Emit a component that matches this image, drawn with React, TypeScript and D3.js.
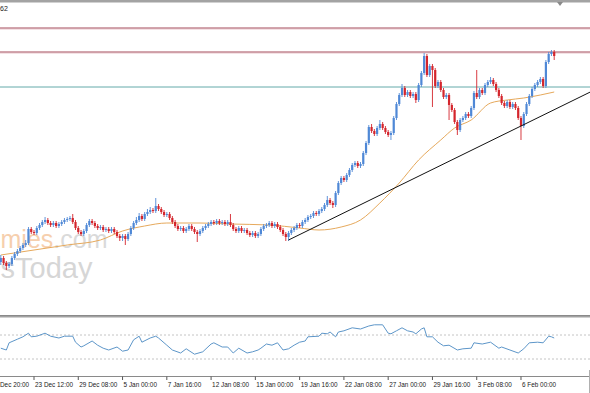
import * as d3 from "d3";
import React from "react";

// 4H candles, [open, high, low, close] in chart price units
const ohlc: number[][] = [
  [51,58,48,55],[55,57,48,50],[50,52,43,47],[47,51,45,49],[49,57,47,55],[55,61,53,59],[59,64,57,62],[62,67,60,65],[65,70,63,68],[68,73,66,70],
  [70,86,68,84],[84,86,79,81],[81,83,78,80],[80,87,78,85],[85,90,83,88],[88,93,86,91],[91,96,89,93],[93,95,88,90],[90,92,86,88],[88,92,86,90],
  [90,92,85,87],[87,91,85,89],[89,93,87,91],[91,95,89,93],[93,96,91,94],[94,97,92,95],[95,99,89,91],[91,93,83,85],[85,87,79,81],[81,83,77,79],
  [79,84,77,82],[82,90,80,88],[88,94,86,92],[92,94,88,90],[90,92,85,87],[87,89,83,85],[85,88,83,86],[86,88,81,83],[83,86,81,84],[84,86,80,82],
  [82,86,80,84],[84,86,79,81],[81,83,75,77],[77,79,72,75],[75,79,72,77],[77,79,68,74],[74,81,72,79],[79,87,77,85],[85,92,83,90],[90,96,88,93],
  [93,100,91,97],[97,99,92,94],[94,101,92,99],[99,104,97,101],[101,106,99,103],[103,105,100,102],[102,115,100,107],[107,109,102,104],[104,106,99,101],[101,103,96,98],
  [98,101,96,99],[99,101,93,95],[95,97,89,91],[91,93,85,87],[87,89,82,84],[84,87,82,85],[85,87,80,82],[82,86,80,84],[84,89,82,87],[87,89,82,84],
  [84,86,79,81],[81,83,71,79],[79,84,77,82],[82,87,80,85],[85,89,83,87],[87,91,85,89],[89,93,87,91],[91,93,88,90],[90,94,88,92],[92,94,88,90],
  [90,93,88,91],[91,93,87,89],[89,93,87,91],[91,99,86,88],[88,90,82,84],[84,86,80,82],[82,87,80,85],[85,87,80,82],[82,85,80,83],[83,85,78,80],
  [80,82,76,78],[78,82,76,80],[80,82,75,77],[77,81,75,79],[79,86,77,84],[84,89,82,87],[87,90,85,88],[88,92,86,90],[90,92,85,87],[87,91,85,89],
  [89,91,84,86],[86,88,81,83],[83,85,77,79],[79,81,72,76],[76,82,72,80],[80,85,78,83],[83,87,81,85],[85,90,83,88],[88,90,85,87],[87,93,85,91],
  [91,95,89,93],[93,98,91,96],[96,99,94,97],[97,102,95,100],[100,102,97,99],[99,104,97,102],[102,106,100,104],[104,110,102,108],[108,117,106,113],[113,115,108,110],
  [110,112,105,108],[108,122,106,120],[120,132,118,130],[130,137,128,135],[135,137,131,133],[133,140,131,138],[138,145,136,143],[143,150,141,148],[148,152,146,150],[150,152,145,147],
  [147,151,145,149],[149,162,147,160],[160,172,158,170],[170,188,168,186],[186,189,180,182],[182,184,177,179],[179,187,177,185],[185,193,183,189],[189,191,183,185],[185,187,179,181],
  [181,183,176,178],[178,182,173,180],[180,197,178,195],[195,211,193,209],[209,220,207,218],[218,229,216,225],[225,227,216,218],[218,223,216,221],[221,223,215,217],[217,221,215,219],
  [219,221,210,213],[213,230,211,228],[228,242,226,240],[240,260,238,257],[257,259,236,238],[238,249,236,247],[247,249,206,243],[243,245,225,227],[227,233,225,231],[231,233,221,223],
  [223,225,214,216],[216,220,214,218],[218,220,193,208],[208,210,201,203],[203,205,189,191],[191,193,178,183],[183,195,181,193],[193,197,191,195],[195,201,193,199],[199,201,195,197],
  [197,207,195,205],[205,222,203,220],[220,243,214,216],[216,225,214,223],[223,225,218,220],[220,230,218,228],[228,233,226,231],[231,236,229,233],[233,235,227,229],[229,231,221,223],
  [223,225,215,217],[217,219,208,210],[210,212,205,207],[207,213,205,211],[211,213,204,206],[206,211,204,209],[209,211,203,205],[205,207,193,195],[195,197,173,187],[187,201,185,199],
  [199,211,197,209],[209,219,207,217],[217,226,215,224],[224,230,222,228],[228,233,226,231],[231,236,229,234],[234,236,225,227],[227,253,225,251],[251,261,249,259],[259,263,257,261],
  [261,263,253,257],
];

// moving average: [bar, price]
const maPoints = [
  [0,58],[12,63],[24,68],[36,73],[44,82],[52,87],[60,90],[72,90],[83,89],[97,88],[108,85],[115,83],[123,86],
  [130,93],[137,110],[144,130],[151,153],[159,173],[164,185],[170,193],[177,210],[183,213],[189,215],[195,218],[200,221],
];

// oscillator in the lower window: [bar, value]
const oscPoints = [
  [0,48],[2,45],[3,57],[6,63],[8,67],[9,70],[10,73],[11,67],[13,68],[16,73],[18,68],[21,65],[23,68],[26,68],[27,58],[29,50],[30,52],
  [33,60],[35,53],[37,48],[39,45],[42,50],[44,43],[46,45],[48,62],[50,68],[51,58],[54,65],[56,68],[57,65],[60,53],[62,45],[65,40],
  [67,47],[70,38],[73,42],[76,55],[77,57],[80,50],[82,50],[84,40],[86,48],[89,40],[91,42],[93,45],[94,48],[96,55],[98,53],[100,57],
  [102,45],[104,47],[106,53],[108,58],[110,60],[111,67],[115,68],[116,73],[118,72],[119,75],[121,67],[122,75],[124,77],[127,82],
  [130,80],[133,85],[135,87],[138,87],[140,73],[141,72],[143,77],[145,82],[147,77],[149,75],[150,72],[152,80],[153,82],[154,67],
  [156,67],[158,58],[160,52],[162,53],[165,45],[167,47],[170,48],[171,57],[174,55],[177,58],[180,48],[181,50],[184,45],[187,40],
  [189,47],[191,57],[194,58],[196,57],[198,68],[199,67],[200,65],
];
const oscLevels = [70, 30];

// first label is cut by the left edge in the original; only its visible part is kept
const timeBars = [12, 28, 44, 60, 76, 92, 108, 124, 140, 156, 172, 188];
const timeLabels = [
  "23 Dec 12:00", "29 Dec 08:00", "5 Jan 00:00", "7 Jan 16:00", "12 Jan 08:00", "15 Jan 00:00",
  "19 Jan 16:00", "22 Jan 08:00", "27 Jan 00:00", "29 Jan 16:00", "3 Feb 08:00", "6 Feb 00:00",
];
const cutLabel = "Dec 20:00";

const resistance = [285, 261];
const support = [226];
const trendAnchors = [[104, 73], [188, 187]];

const BLUE = "#4f88d6";
const RED = "#d4252c";
const FONT = "Liberation Sans, Arial, sans-serif";

const App = () => {
  const width = 590;
  const height = 393;
  const x = d3.scaleLinear().domain([0, 200]).range([0.8, 554.2]);
  const y = d3.scaleLinear().domain([0, 310]).range([313, 3]);
  const yOsc = d3.scaleLinear().domain([0, 100]).range([377, 317]);

  const maLine = d3
    .line<number[]>()
    .x((d) => x(d[0]))
    .y((d) => y(d[1]))
    .curve(d3.curveMonotoneX);
  const oscLine = d3
    .line<number[]>()
    .x((d) => x(d[0]))
    .y((d) => yOsc(d[1]));

  // extend trend line to the right edge
  const [[b0, p0], [b1, p1]] = trendAnchors;
  const endBar = x.invert(width);
  const endPrice = p0 + ((p1 - p0) * (endBar - b0)) / (b1 - b0);

  return (
    <svg width={width} height={height} style={{ display: "block", background: "white" }}>
      <style>{`body{margin:0}`}</style>
      <defs>
        <clipPath id="main">
          <rect x={0} y={3} width={width} height={310} />
        </clipPath>
      </defs>
      <rect x={0} y={0} width={width} height={2.5} fill="#a3a3a3" />
      <text x={0} y={11} fontSize={7} fontFamily={FONT} fill="#222">62</text>
      <polygon points="557,2 563,2 560,6" fill="#8a8a8a" />

      {/* watermark, only the part that shows in the crop */}
      <g fontFamily={FONT}>
        <text x={0.5} y={248} fontSize={25}>
          <tspan fill="#f6cfae">mies</tspan>
          <tspan fill="#dadada">.com</tspan>
        </text>
        <text x={0.5} y={278} fontSize={29} fill="#d6d6d6">sToday</text>
      </g>

      <g clipPath="url(#main)">
        {resistance.map((p) => (
          <g key={p}>
            <line x1={0} x2={width} y1={y(p) + 1.2} y2={y(p) + 1.2} stroke="#efd6da" strokeWidth={1} />
            <line x1={0} x2={width} y1={y(p)} y2={y(p)} stroke="#a44a5a" strokeWidth={1} />
          </g>
        ))}
        {support.map((p) => (
          <line key={p} x1={0} x2={width} y1={y(p)} y2={y(p)} stroke="#65aaaa" strokeWidth={1} />
        ))}
        <path d={maLine(maPoints) || ""} fill="none" stroke="#e6a95c" strokeWidth={1} />
        {ohlc.map(([o, h, l, c], i) => {
          const col = c >= o ? BLUE : RED;
          const cx = x(i);
          const top = y(Math.max(o, c));
          const bot = y(Math.min(o, c));
          return (
            <g key={i}>
              <line x1={cx} x2={cx} y1={y(h)} y2={y(l)} stroke={col} strokeWidth={0.9} />
              <rect x={cx - 1.1} y={top} width={2.2} height={Math.max(1, bot - top)} fill={col} />
            </g>
          );
        })}
        <line x1={x(b0)} y1={y(p0)} x2={width} y2={y(endPrice)} stroke="#111" strokeWidth={1} />
      </g>

      {/* separator */}
      <rect x={0} y={315} width={width} height={1.8} fill="#8a8a8a" />
      <line x1={0} x2={width} y1={317.5} y2={317.5} stroke="#d0d0d0" />

      {oscLevels.map((v) => (
        <line key={v} x1={0} x2={width} y1={yOsc(v)} y2={yOsc(v)} stroke="#c4c4c4" strokeDasharray="2,2" />
      ))}
      <path d={oscLine(oscPoints) || ""} fill="none" stroke="#5d96c9" strokeWidth={1} />

      {/* time axis */}
      <line x1={0} x2={width} y1={376.5} y2={376.5} stroke="#8a8a8a" />
      <line x1={589.5} x2={589.5} y1={370} y2={393} stroke="#b0b0b0" />
      <text x={0} y={386.5} fontSize={6.4} fontFamily={FONT} fill="#222">{cutLabel}</text>
      {timeBars.map((b, i) => (
        <g key={b}>
          <line x1={x(b)} x2={x(b)} y1={376.5} y2={380} stroke="#555" />
          <text x={x(b) + 1} y={386.5} fontSize={6.4} fontFamily={FONT} fill="#222">
            {timeLabels[i]}
          </text>
        </g>
      ))}
    </svg>
  );
};

export default App;
